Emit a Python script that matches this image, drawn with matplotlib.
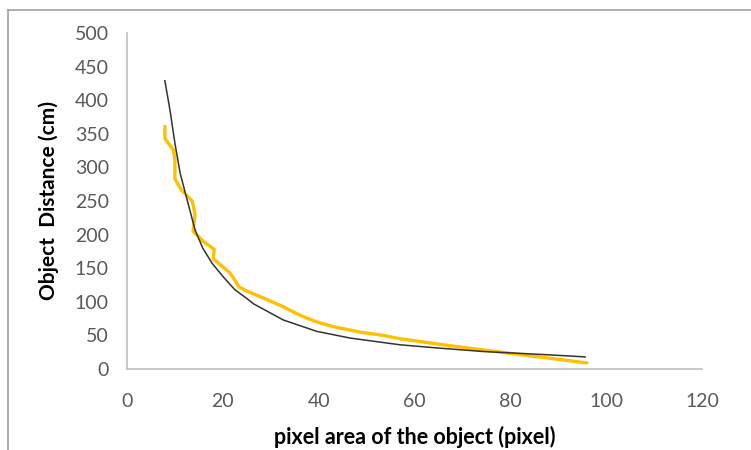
import matplotlib
matplotlib.use("Agg")
import matplotlib.pyplot as plt
from matplotlib.lines import Line2D

# Measured data (yellow curve)
meas_x = [7.9, 7.9, 9.7, 10.0, 10.0, 11.4, 13.6, 14.2, 13.8, 15.9, 18.2, 18.0,
          21.5, 23.4, 25.0, 29.0, 32.5, 36.1, 39.6, 43.1, 48.6, 53.5, 57.0, 66.0,
          75.8, 81.4, 88.3, 96.0]
meas_y = [361, 343, 326, 311, 283, 266, 250, 230, 205, 190, 178, 164,
          143, 122, 116, 104, 93, 80, 70, 63, 55, 50, 45, 36,
          27, 22, 16, 9]

# Trend line (black curve)
trend_x = [7.9, 9.0, 10.0, 11.1, 12.5, 14.2, 15.8, 17.8, 20.1, 22.5, 25.0, 26.4,
           32.6, 39.6, 46.6, 57.0, 65.3, 74.4, 88.3, 95.6]
trend_y = [429, 384, 336, 291, 253, 207, 180, 157, 137, 118, 105, 97,
           73, 56, 46, 36, 31, 26, 21, 18]

x_ticks = [0, 20, 40, 60, 80, 100, 120]
y_ticks = [0, 50, 100, 150, 200, 250, 300, 350, 400, 450, 500]

plt.rcParams['font.family'] = ['Lato', 'DejaVu Sans']

fig = plt.figure(figsize=(7.51, 4.5), dpi=100)
ax = fig.add_axes([127/751, 1 - 369/450, 575/751, 336/450])

ax.plot(meas_x, meas_y, color='#FFC000', lw=2.4, solid_capstyle='round', solid_joinstyle='round')
ax.plot(trend_x, trend_y, color='#333333', lw=1.1, solid_joinstyle='round')

ax.set_xlim(0, 120)
ax.set_ylim(0, 500)
ax.set_xticks(x_ticks)
ax.set_yticks(y_ticks)
ax.tick_params(length=0, labelsize=14, colors='#595959')
ax.tick_params(axis='y', pad=13)
ax.tick_params(axis='x', pad=17)
for s in ['top', 'right']:
    ax.spines[s].set_visible(False)
for s in ['left', 'bottom']:
    ax.spines[s].set_color('#BFBFBF')
    ax.spines[s].set_linewidth(1.2)

ax.set_xlabel('pixel area of the object (pixel)', fontsize=15.5, fontweight='bold', color='black')
ax.set_ylabel('Object  Distance (cm)', fontsize=15, fontweight='bold', color='black')
ax.xaxis.set_label_coords(0.5, -0.202)
ax.yaxis.set_label_coords(-0.137, 0.5)
ax.xaxis.label.set_va('center')
ax.yaxis.label.set_va('center')

# outer frame (left and top)
fig.add_artist(Line2D([8/751, 8/751], [0, 1 - 10/450], color='#A0A0A0', lw=1.2, transform=fig.transFigure))
fig.add_artist(Line2D([8/751, 1], [1 - 10/450, 1 - 10/450], color='#A0A0A0', lw=1.2, transform=fig.transFigure))

fig.savefig('out.png', dpi=100)
